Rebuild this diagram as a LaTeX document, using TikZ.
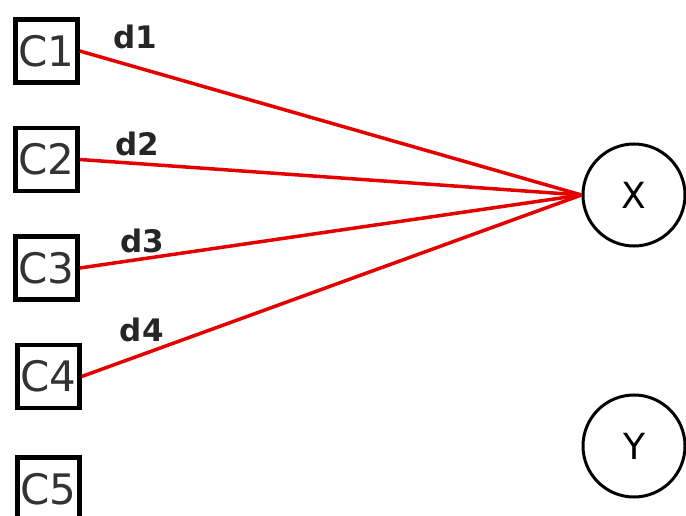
\documentclass[tikz,border=0pt]{standalone}
\usepackage{fontspec}
\setmainfont{DejaVu Sans}
\usetikzlibrary{positioning}
\tikzset{
    cell/.style = {rectangle, draw, line width=4.5pt, minimum width=62pt, minimum height=63pt, inner sep=0pt, font=\fontsize{42}{42}\selectfont, text=black!80},
    target/.style = {circle, draw, line width=3pt, minimum size=102pt, inner sep=0pt, font=\fontsize{36}{36}\selectfont},
    link/.style = {draw, color=red!90!black, line width=3.5pt},
    dist/.style = {font=\bfseries\fontsize{31}{31}\selectfont, text=black!85, inner sep=1pt}
}

\begin{document}
\begin{tikzpicture}[
        x=1pt, y=-1pt,
        node distance=41pt and 41pt
    ]
        \useasboundingbox (0,0) rectangle (686,516);

        % --- NODES ---
        % column of candidates
        \node [cell] (C1) at (46.5,51) {C1};
        \node [cell, below=of C1] (C2) {C2};
        \node [cell, below=of C2] (C3) {C3};
        \node [cell, below=of C3, xshift=2pt] (C4) {C4};
        \node [cell, below=of C4, yshift=-4pt] (C5) {C5};

        % targets on the right
        \node [target] (X) at (634,195) {X};
        \node [target, below=146pt of X] (Y) {Y};

        % --- PATHS ---
        \path [link] (C1.east) -- node[dist, pos=0.11, above=15pt] {d1} (X.west);
        \path [link] (C2.east) -- node[dist, pos=0.115, above=5pt] {d2} (X.west);
        \path [link] (C3.east) -- node[dist, pos=0.125, above=3pt] {d3} (X.west);
        \path [link] (C4.east) -- node[dist, pos=0.12, above=10pt] {d4} (X.west);

    \end{tikzpicture}
\end{document}
